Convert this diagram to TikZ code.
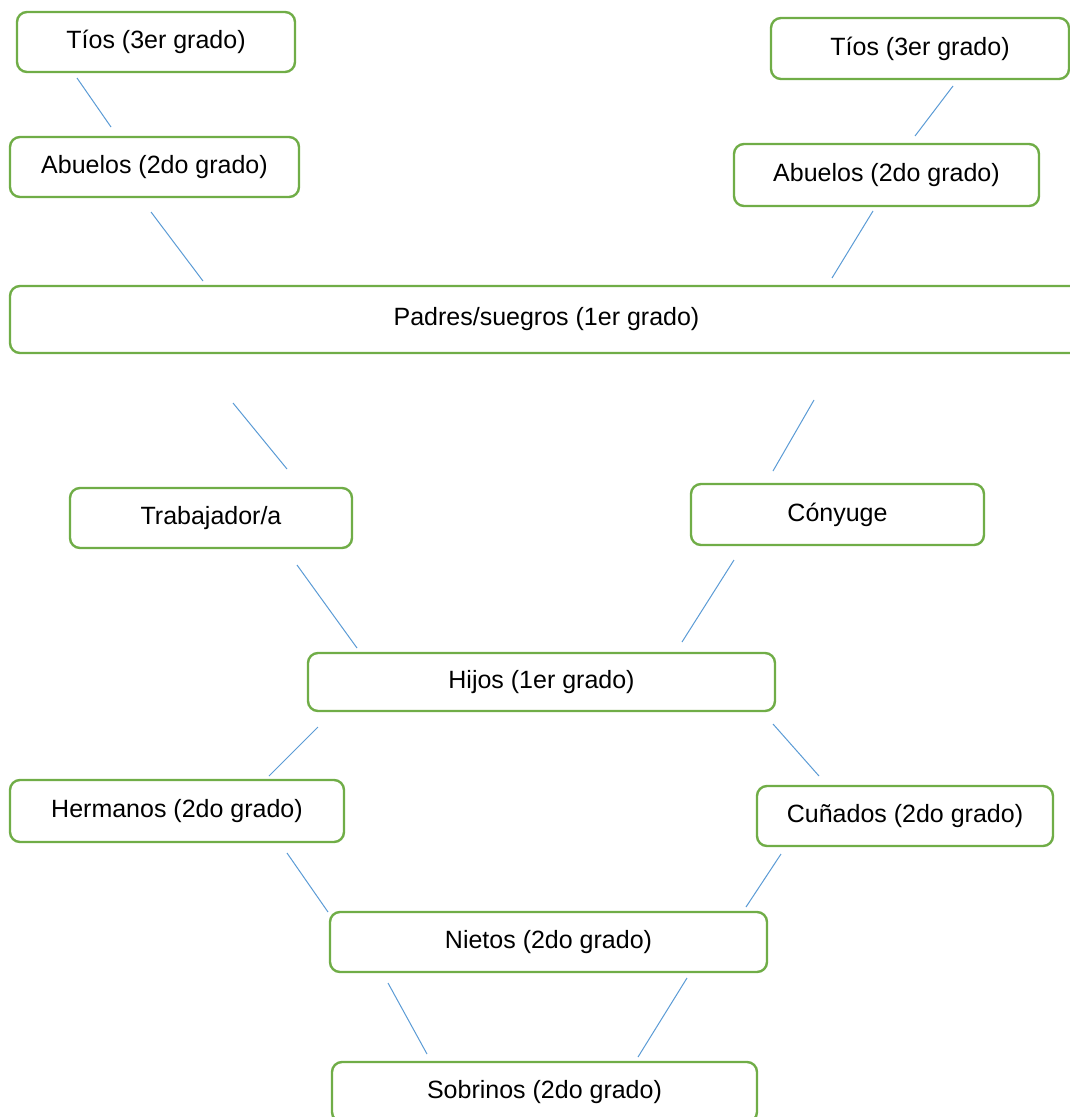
\documentclass[tikz,border=0pt]{standalone}
\usepackage{fontspec}
\setmainfont{Liberation Sans}
\definecolor{boxgreen}{HTML}{70AD47}
\definecolor{lineblue}{HTML}{5B9BD5}
\begin{document}
\begin{tikzpicture}[x=0.75pt,y=-0.75pt,
  box/.style={draw=boxgreen, line width=1.8pt, rounded corners=7.5pt, fill=white,
    inner sep=0pt, font=\fontsize{18.75pt}{22pt}\selectfont, text=black},
  link/.style={draw=lineblue, line width=0.75pt}]
\useasboundingbox (0,0) rectangle (1070,1117);
\begin{scope}
\clip (0,0) rectangle (1070,1117);
% boxes
\node[box, minimum width=208.5pt, minimum height=45pt] (tiosL) at (156,42) {Tíos (3er grado)};
\node[box, minimum width=216.75pt, minimum height=45pt] (abuL) at (154.5,167) {Abuelos (2do grado)};
\node[box, minimum width=223.5pt, minimum height=45.75pt] (tiosR) at (920,48.5) {Tíos (3er grado)};
\node[box, minimum width=228.75pt, minimum height=46.5pt] (abuR) at (886.5,175) {Abuelos (2do grado)};
\node[box, minimum width=804.75pt, minimum height=50.25pt] (padres) at (546.5,319.5) {Padres/suegros (1er grado)};
\node[box, minimum width=211.5pt, minimum height=45pt] (trab) at (211,518) {Trabajador/a};
\node[box, minimum width=219.75pt, minimum height=45.75pt] (cony) at (837.5,514.5) {Cónyuge};
\node[box, minimum width=350.25pt, minimum height=43.5pt] (hijos) at (541.5,682) {Hijos (1er grado)};
\node[box, minimum width=250.5pt, minimum height=46.5pt] (herm) at (177,811) {Hermanos (2do grado)};
\node[box, minimum width=222pt, minimum height=45pt] (cun) at (905,816) {Cuñados (2do grado)};
\node[box, minimum width=327.75pt, minimum height=45pt] (nietos) at (548.5,942) {Nietos (2do grado)};
\node[box, minimum width=318.75pt, minimum height=45pt] (sobr) at (544.5,1092) {Sobrinos (2do grado)};
% connector end points
\coordinate (l1a) at (77,78);   \coordinate (l1b) at (111,127);
\coordinate (l2a) at (953,86);  \coordinate (l2b) at (915,136);
\coordinate (l3a) at (151,212); \coordinate (l3b) at (203,281);
\coordinate (l4a) at (873,211); \coordinate (l4b) at (832,278);
\coordinate (l5a) at (233,403); \coordinate (l5b) at (287,469);
\coordinate (l6a) at (814,400); \coordinate (l6b) at (773,471);
\coordinate (l7a) at (297,565); \coordinate (l7b) at (357,648);
\coordinate (l8a) at (734,560); \coordinate (l8b) at (682,642);
\coordinate (l9a) at (318,727); \coordinate (l9b) at (269,776);
\coordinate (l10a) at (773,724); \coordinate (l10b) at (819,776);
\coordinate (l11a) at (287,853); \coordinate (l11b) at (328,912);
\coordinate (l12a) at (781,854); \coordinate (l12b) at (746,907);
\coordinate (l13a) at (388,983); \coordinate (l13b) at (427,1054);
\coordinate (l14a) at (687,978); \coordinate (l14b) at (638,1057);
% connectors
\foreach \i in {1,...,14} {\draw[link] (l\i a) -- (l\i b);}
\end{scope}
\end{tikzpicture}
\end{document}
